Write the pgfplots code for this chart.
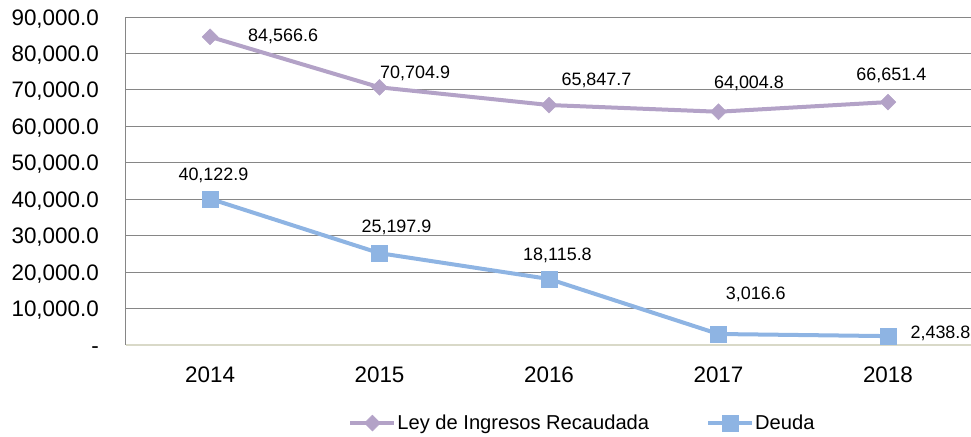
\documentclass[border=0pt]{standalone}
\usepackage{fontspec}
\setmainfont{Liberation Sans}
\usepackage{pgfplots}
\pgfplotsset{compat=1.18}
\definecolor{purp}{HTML}{B3A2C7}
\definecolor{blu}{HTML}{8EB4E3}
\definecolor{gridc}{HTML}{868686}
\definecolor{basec}{HTML}{D9D9C8}
\begin{document}
\begin{tikzpicture}
\begin{axis}[
  at={(0,0)}, anchor=south west,
  scale only axis, width=845bp, height=328bp,
  xmin=-0.496, xmax=4.49, ymin=0, ymax=90000,
  scaled y ticks=false,
  axis x line*=bottom, axis y line*=left,
  x axis line style={basec, line width=1.5bp, -},
  y axis line style={gridc, line width=1bp, -},
  xtick={0,1,2,3,4}, xticklabels={2014,2015,2016,2017,2018},
  ytick={10000,20000,30000,40000,50000,60000,70000,80000,90000},
  yticklabels={{10,000.0},{20,000.0},{30,000.0},{40,000.0},{50,000.0},{60,000.0},{70,000.0},{80,000.0},{90,000.0}},
  extra y ticks={0}, extra y tick labels={{-\hspace{13bp}}}, extra y tick style={grid=none},
  major tick length=0pt,
  ymajorgrids, major grid style={gridc, line width=0.9bp},
  tick label style={font=\fontsize{22.5}{26}\selectfont},
  /pgf/number format/assume math mode=true,
  yticklabel style={anchor=east, inner sep=0pt, xshift=-27bp, text height=16bp, text depth=0pt},
  xticklabel style={anchor=north, inner sep=0pt, yshift=-22bp},
  clip=false,
  legend style={at={(axis description cs:0.263,-0.238)}, anchor=west, draw=none, fill=none,
    legend columns=2, font=\fontsize{20.2}{24}\selectfont, inner sep=0pt,
    /tikz/every even column/.append style={column sep=56bp}, nodes={inner sep=1bp}},
  legend image code/.code={\draw[#1, mark repeat=2, mark phase=2] plot coordinates {(0bp,0bp) (22bp,0bp) (44bp,0bp)};},
]
\addplot[purp, line width=4bp, mark=square*, mark size=5.6bp, mark options={rotate=45, line width=0.5bp}]
  coordinates {(0,84566.6)(1,70704.9)(2,65847.7)(3,64004.8)(4,66651.4)};
\addlegendentry{Ley de Ingresos Recaudada}
\addplot[blu, line width=4bp, mark=square*, mark size=8bp, mark options={line width=0.5bp}]
  coordinates {(0,40122.9)(1,25197.9)(2,18115.8)(3,3016.6)(4,2438.8)};
\addlegendentry{Deuda}
\begin{scope}[every node/.style={font=\fontsize{18}{21}\selectfont, inner sep=0pt}]
\node at (axis cs:0.431,84566) {84,566.6};
\node at (axis cs:1.21,74640) {70,704.9};
\node at (axis cs:2.28,72720) {65,847.7};
\node at (axis cs:3.18,71900) {64,004.8};
\node at (axis cs:4.02,74090) {66,651.4};
\node at (axis cs:0.02,46650) {40,122.9};
\node at (axis cs:1.10,32380) {25,197.9};
\node at (axis cs:2.05,24700) {18,115.8};
\node at (axis cs:3.22,14000) {3,016.6};
\node at (axis cs:4.31,3290) {2,438.8};
\end{scope}
\end{axis}
\pgfresetboundingbox
\useasboundingbox (-126bp,-92bp) rectangle (845bp,345bp);
\end{tikzpicture}
\end{document}
